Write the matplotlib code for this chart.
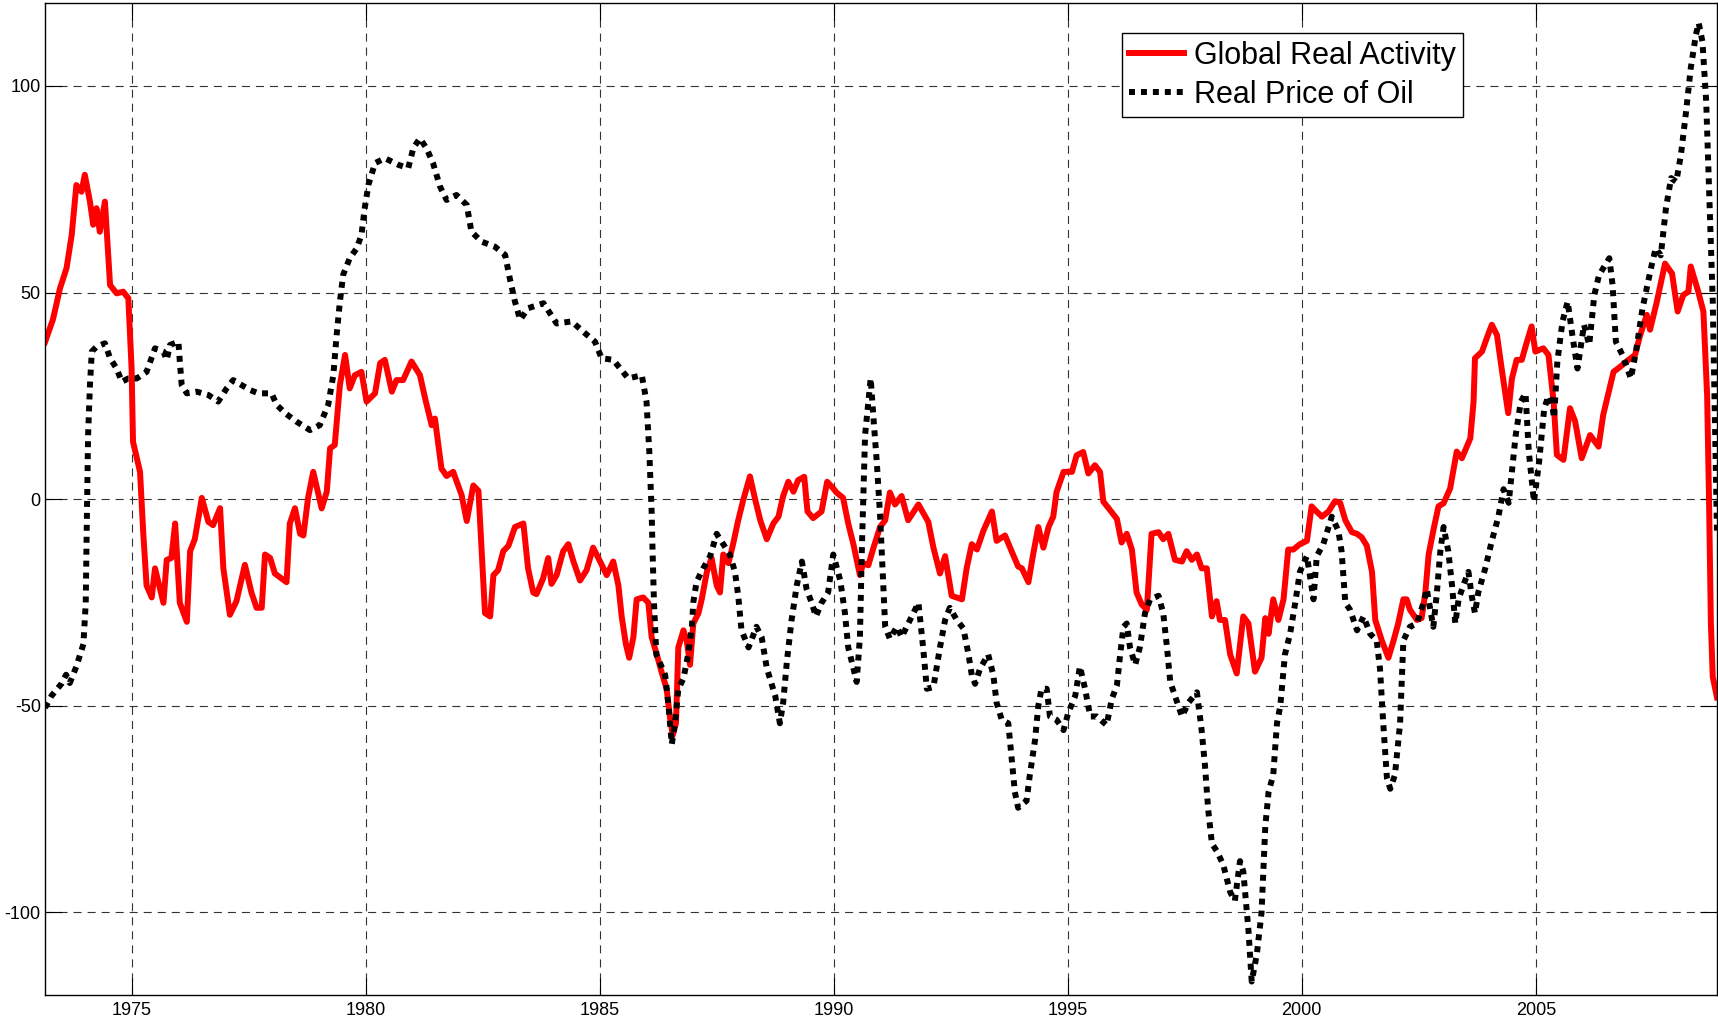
import matplotlib
matplotlib.use("Agg")
import matplotlib.pyplot as plt

plt.rcParams['font.family'] = ['Liberation Sans', 'DejaVu Sans']
plt.rcParams['lines.scale_dashes'] = False

# Global real activity index (decimal year, value)
activity_year = [
    1973.15, 1973.32, 1973.47, 1973.61, 1973.72, 1973.82, 1973.93, 1974.00, 1974.11, 1974.18,
    1974.25, 1974.32, 1974.43, 1974.54, 1974.68, 1974.82, 1974.93, 1975.00, 1975.03, 1975.18,
    1975.25, 1975.32, 1975.43, 1975.50, 1975.68, 1975.75, 1975.85, 1975.93, 1976.03, 1976.18,
    1976.25, 1976.35, 1976.50, 1976.64, 1976.74, 1976.89, 1976.96, 1977.10, 1977.24, 1977.42,
    1977.56, 1977.67, 1977.78, 1977.85, 1977.96, 1978.06, 1978.31, 1978.38, 1978.49, 1978.60,
    1978.67, 1978.77, 1978.88, 1979.06, 1979.17, 1979.24, 1979.34, 1979.45, 1979.56, 1979.66,
    1979.77, 1979.91, 1980.02, 1980.20, 1980.31, 1980.41, 1980.56, 1980.66, 1980.80, 1980.98,
    1981.16, 1981.27, 1981.41, 1981.48, 1981.62, 1981.73, 1981.87, 1982.05, 1982.16, 1982.30,
    1982.41, 1982.55, 1982.66, 1982.73, 1982.83, 1982.94, 1983.05, 1983.19, 1983.37, 1983.47,
    1983.58, 1983.65, 1983.79, 1983.90, 1983.97, 1984.08, 1984.22, 1984.33, 1984.44, 1984.58,
    1984.72, 1984.86, 1985.01, 1985.15, 1985.29, 1985.40, 1985.47, 1985.56, 1985.63, 1985.72,
    1985.79, 1985.93, 1986.04, 1986.11, 1986.22, 1986.32, 1986.43, 1986.50, 1986.56, 1986.63,
    1986.68, 1986.79, 1986.86, 1986.93, 1987.00, 1987.11, 1987.18, 1987.29, 1987.39, 1987.50,
    1987.57, 1987.64, 1987.75, 1987.85, 1987.96, 1988.07, 1988.21, 1988.32, 1988.43, 1988.57,
    1988.71, 1988.82, 1988.92, 1989.03, 1989.14, 1989.24, 1989.37, 1989.44, 1989.56, 1989.74,
    1989.86, 1989.99, 1990.06, 1990.20, 1990.31, 1990.42, 1990.56, 1990.63, 1990.74, 1990.85,
    1990.99, 1991.10, 1991.20, 1991.31, 1991.45, 1991.59, 1991.81, 1992.02, 1992.13, 1992.27,
    1992.38, 1992.52, 1992.74, 1992.84, 1992.95, 1993.06, 1993.20, 1993.38, 1993.48, 1993.66,
    1993.80, 1993.94, 1994.02, 1994.16, 1994.26, 1994.37, 1994.48, 1994.59, 1994.69, 1994.76,
    1994.91, 1995.09, 1995.19, 1995.33, 1995.44, 1995.58, 1995.69, 1995.76, 1995.90, 1996.05,
    1996.15, 1996.26, 1996.37, 1996.47, 1996.58, 1996.69, 1996.79, 1996.94, 1997.04, 1997.15,
    1997.29, 1997.44, 1997.54, 1997.65, 1997.76, 1997.86, 1997.97, 1998.08, 1998.18, 1998.25,
    1998.36, 1998.47, 1998.61, 1998.75, 1998.86, 1999.00, 1999.14, 1999.22, 1999.29, 1999.39,
    1999.50, 1999.61, 1999.71, 1999.82, 1999.96, 2000.11, 2000.21, 2000.28, 2000.43, 2000.57,
    2000.71, 2000.82, 2000.93, 2001.07, 2001.18, 2001.28, 2001.39, 2001.50, 2001.57, 2001.71,
    2001.85, 2001.96, 2002.06, 2002.17, 2002.24, 2002.31, 2002.46, 2002.56, 2002.64, 2002.71,
    2002.81, 2002.92, 2003.03, 2003.17, 2003.31, 2003.42, 2003.60, 2003.67, 2003.70, 2003.85,
    2003.95, 2004.06, 2004.17, 2004.27, 2004.41, 2004.49, 2004.59, 2004.70, 2004.81, 2004.91,
    2004.99, 2005.16, 2005.27, 2005.38, 2005.45, 2005.59, 2005.73, 2005.84, 2005.98, 2006.16,
    2006.34, 2006.44, 2006.66, 2006.80, 2006.98, 2007.12, 2007.23, 2007.37, 2007.44, 2007.58,
    2007.76, 2007.91, 2008.03, 2008.15, 2008.26, 2008.31, 2008.47, 2008.58, 2008.66, 2008.70,
    2008.74, 2008.78, 2008.87,
]
activity = [
    38, 43.5, 51, 55.9, 63.9, 76, 74.4, 78.5, 72, 66.4,
    70.4, 64.7, 72, 51.8, 49.8, 50.2, 48.6, 31.6, 13.9, 6.6,
    -8.4, -20.9, -23.8, -16.75, -25.1, -14.7, -14.25, -5.9, -25.1, -29.7,
    -12.6, -9.7, 0.3, -5.5, -6.3, -2.2, -16.75, -28, -24.7, -15.9,
    -22.6, -26.3, -26.3, -13.4, -14.25, -18, -20.1, -5.9, -2.2, -8.4,
    -8.8, 0.3, 6.6, -2.25, 1.8, 12.3, 13.1, 27.6, 34.9, 26.8,
    30, 30.8, 23.6, 25.6, 32.9, 33.7, 26, 28.8, 28.8, 33.3,
    30, 24.4, 17.9, 19.5, 7.4, 5.6, 6.6, 1, -5.3, 3.3,
    2, -27.6, -28.4, -18.4, -17.2, -12.6, -11.3, -6.75, -5.9, -16.75,
    -22.6, -23, -19.25, -14.25, -20.5, -18.4, -12.6, -10.9, -15.1, -19.7,
    -17.2, -11.75, -15.1, -18.4, -15.1, -20.9, -28.4, -35.1, -38.4, -33.4,
    -24.25, -23.8, -25.1, -33.4, -37.6, -41.75, -45.9, -52.6, -57.2, -54.25,
    -35.9, -31.75, -34.25, -40.1, -30.1, -27.6, -24.25, -17.6, -14.25, -20.9,
    -22.6, -13.4, -15.5, -10.9, -5.1, -0.1, 5.5, 0, -5.1, -9.7,
    -5.9, -4.25, 0.75, 4.2, 1.8, 4.6, 5.4, -3, -4.6, -3,
    4.2, 2.6, 1.6, 0.3, -5.9, -10.9, -18.4, -15.5, -16, -11.75,
    -6.75, -5.1, 1.6, -1.3, 0.75, -5.1, -1.3, -5.5, -11.75, -18,
    -13.8, -23.4, -24.25, -16.75, -10.9, -12.2, -7.6, -3, -10.1, -8.8,
    -12.6, -16.3, -16.75, -20.1, -13.4, -6.75, -11.75, -6.75, -4.25, 1.7,
    6.6, 6.6, 10.6, 11.4, 6.2, 8.2, 6.6, -0.6, -2.6, -4.8,
    -10.5, -8.4, -12.2, -22.6, -25.5, -26.75, -8.4, -8, -9.7, -8.4,
    -14.7, -15.1, -12.6, -14.7, -13.4, -16.75, -16.75, -28.4, -24.7, -29.25,
    -29.25, -37.6, -42.2, -28.4, -30.1, -41.75, -38.4, -28.8, -32.6, -24.25,
    -29.25, -24.25, -12.2, -12.2, -10.9, -10.1, -1.75, -2.6, -4.25, -3,
    -0.5, -0.9, -5.1, -8, -8.4, -9.25, -11.3, -17.6, -29.25, -34.25,
    -38.4, -34.25, -30.1, -24.25, -24.25, -26.75, -29.25, -28.8, -22.6, -13.4,
    -7.6, -1.75, -1, 2.6, 11.5, 9.9, 14.7, 23.6, 34.1, 35.7,
    38.9, 42.2, 39.7, 31.6, 20.8, 29.2, 33.7, 33.7, 38.1, 41.8,
    35.7, 36.5, 34.9, 23.6, 10.7, 9.5, 22, 18.8, 9.9, 15.5,
    12.7, 20.4, 30.8, 32, 33.7, 34.9, 39.7, 44.6, 41, 47.5,
    57, 54.6, 45.4, 49.4, 50.2, 56.3, 50.2, 45.4, 25, 0,
    -30, -43, -48,
]

# Real price of oil (decimal year, value)
oil_year = [
    1973.15, 1973.29, 1973.50, 1973.60, 1973.68, 1973.82, 1973.97, 1974.02, 1974.04, 1974.07,
    1974.11, 1974.15, 1974.25, 1974.43, 1974.54, 1974.68, 1974.79, 1974.93, 1975.11, 1975.32,
    1975.50, 1975.68, 1975.75, 1975.82, 1976.00, 1976.03, 1976.07, 1976.18, 1976.39, 1976.64,
    1976.85, 1977.03, 1977.17, 1977.35, 1977.53, 1977.71, 1977.99, 1978.10, 1978.28, 1978.53,
    1978.81, 1979.02, 1979.20, 1979.31, 1979.38, 1979.45, 1979.52, 1979.66, 1979.81, 1979.91,
    1979.98, 1980.06, 1980.20, 1980.41, 1980.70, 1980.91, 1981.02, 1981.16, 1981.30, 1981.44,
    1981.59, 1981.73, 1981.94, 1982.16, 1982.26, 1982.48, 1982.76, 1982.98, 1983.08, 1983.19,
    1983.30, 1983.47, 1983.80, 1984.08, 1984.40, 1984.65, 1984.90, 1985.04, 1985.29, 1985.61,
    1985.90, 1986.00, 1986.06, 1986.11, 1986.13, 1986.16, 1986.21, 1986.40, 1986.47, 1986.54,
    1986.61, 1986.68, 1986.79, 1986.89, 1986.97, 1987.00, 1987.07, 1987.21, 1987.36, 1987.50,
    1987.64, 1987.78, 1987.89, 1987.96, 1988.03, 1988.18, 1988.35, 1988.46, 1988.57, 1988.75,
    1988.85, 1988.92, 1989.00, 1989.10, 1989.21, 1989.32, 1989.42, 1989.53, 1989.62, 1989.74,
    1989.88, 1989.99, 1990.14, 1990.24, 1990.31, 1990.42, 1990.49, 1990.56, 1990.60, 1990.63,
    1990.67, 1990.74, 1990.79, 1990.85, 1990.92, 1990.99, 1991.06, 1991.10, 1991.20, 1991.35,
    1991.45, 1991.63, 1991.81, 1991.91, 1991.99, 1992.13, 1992.27, 1992.38, 1992.48, 1992.63,
    1992.77, 1992.88, 1992.95, 1993.02, 1993.13, 1993.30, 1993.41, 1993.48, 1993.59, 1993.73,
    1993.80, 1993.87, 1993.94, 1994.12, 1994.19, 1994.30, 1994.37, 1994.44, 1994.55, 1994.62,
    1994.76, 1994.91, 1995.01, 1995.16, 1995.26, 1995.37, 1995.48, 1995.62, 1995.83, 1995.94,
    1996.05, 1996.12, 1996.19, 1996.26, 1996.33, 1996.44, 1996.54, 1996.65, 1996.76, 1996.94,
    1997.04, 1997.12, 1997.19, 1997.29, 1997.44, 1997.58, 1997.76, 1997.86, 1997.93, 1998.00,
    1998.08, 1998.18, 1998.32, 1998.47, 1998.57, 1998.68, 1998.75, 1998.86, 1998.93, 1999.04,
    1999.14, 1999.22, 1999.29, 1999.39, 1999.47, 1999.54, 1999.64, 1999.75, 1999.86, 1999.96,
    2000.11, 2000.25, 2000.32, 2000.46, 2000.64, 2000.78, 2000.85, 2000.93, 2001.03, 2001.18,
    2001.32, 2001.46, 2001.60, 2001.67, 2001.74, 2001.82, 2001.89, 2001.99, 2002.10, 2002.14,
    2002.17, 2002.31, 2002.46, 2002.60, 2002.67, 2002.81, 2002.88, 2002.96, 2003.03, 2003.13,
    2003.21, 2003.28, 2003.35, 2003.45, 2003.56, 2003.63, 2003.70, 2003.77, 2003.92, 2004.06,
    2004.20, 2004.31, 2004.42, 2004.57, 2004.68, 2004.78, 2004.85, 2004.96, 2005.07, 2005.18,
    2005.27, 2005.35, 2005.39, 2005.46, 2005.57, 2005.68, 2005.78, 2005.89, 2006.03, 2006.14,
    2006.25, 2006.35, 2006.57, 2006.64, 2006.71, 2006.85, 2007.03, 2007.14, 2007.28, 2007.46,
    2007.56, 2007.67, 2007.78, 2007.89, 2008.00, 2008.10, 2008.21, 2008.31, 2008.42, 2008.48,
    2008.56, 2008.64, 2008.71, 2008.78, 2008.82, 2008.87,
]
oil = [
    -50.5, -47.6, -44.7, -42.5, -44.5, -40.5, -35.1, -25.1, -8, 15.5,
    27.6, 35.7, 36.9, 37.7, 34.1, 31.6, 28.4, 29.2, 29.2, 30.8,
    36.5, 35.7, 33.7, 37.3, 38.1, 33.3, 27.6, 25.6, 26, 25.2,
    23.6, 26.8, 28.8, 27.6, 26.4, 25.6, 25.6, 22.8, 20.8, 18.7,
    16.7, 17.9, 22.8, 30, 39.7, 47.8, 54.3, 58.3, 60.7, 63.9,
    70.4, 76.1, 81.3, 82.5, 80.9, 80.1, 85, 87.3, 84.9, 81.3,
    75.6, 72.4, 73.6, 71.2, 64.7, 62.3, 61.1, 59.1, 53.4, 47.8,
    43.4, 46.2, 47.4, 42.5, 43, 40.5, 38.1, 34.1, 33.7, 29.2,
    30, 23.6, 11.5, -3, -12.6, -25, -37.6, -42.6, -50, -59.3,
    -54.2, -46, -43.4, -37.6, -30.9, -25, -20, -16.8, -13.8, -8.4,
    -10.9, -13.4, -17.6, -23.4, -31.75, -35.9, -30.9, -33.4, -40.9, -47.6,
    -54.25, -49.25, -39.25, -29.25, -20.9, -15.1, -21.75, -25.1, -28.4, -25.1,
    -22.6, -13.4, -19.7, -27.6, -35.9, -40.9, -44.25, -33.4, -12.6, -0.6,
    15.5, 23.6, 29.2, 19.5, 9, -3.8, -20.9, -30.9, -33.8, -30.9,
    -33.4, -29.25, -25.1, -35.9, -45.9, -45.5, -35.9, -29.25, -26.3, -29.25,
    -31.3, -37.6, -42.6, -44.7, -40.9, -37.6, -42.6, -49.25, -53.4, -54.25,
    -62.6, -70.9, -74.7, -73, -66.75, -58.4, -50.1, -45.9, -45.9, -52.6,
    -53.4, -55.9, -51.75, -47.6, -40.5, -45.9, -52.6, -52.6, -54.7, -48.4,
    -45.1, -37.6, -30.9, -30.1, -35.9, -40.1, -35.9, -27.6, -24.25, -23.4,
    -27.6, -35.9, -44.25, -47.6, -52.6, -49.25, -46.75, -55.9, -64.25, -75.1,
    -83.4, -85.1, -88.4, -95.1, -97.2, -87.6, -90.1, -104.25, -116.75, -110.1,
    -100.1, -79.25, -70.9, -66.75, -54.25, -50.1, -37.6, -32.6, -25.1, -17.6,
    -13.8, -24.25, -13.8, -10.9, -4.25, -7.6, -12.6, -25.1, -26.75, -31.75,
    -28.4, -32.6, -34.25, -40.9, -54.25, -67.6, -70.1, -66.75, -54.25, -42.6,
    -34.25, -30.9, -30.1, -25.1, -21.75, -30.9, -23.4, -12.6, -6.75, -12.6,
    -20.9, -30.1, -24.25, -20.9, -17.6, -23.4, -27.6, -22.6, -16.75, -10.1,
    -4.25, 2.4, -0.9, 15.5, 23.6, 25.6, 11.5, -0.6, 9, 22,
    25, 22.8, 19.6, 33.3, 43, 47.8, 39.7, 31.6, 42.2, 37.3,
    49.4, 54.2, 58.3, 51.8, 38.1, 34.9, 29.2, 35.7, 46.2, 55.9,
    60.7, 59, 70.4, 77.7, 76.8, 83.3, 93.8, 104.3, 112.4, 115.2,
    110.7, 96.2, 72, 47.8, 23.6, -8,
]

x_ticks = [1975, 1980, 1985, 1990, 1995, 2000, 2005]
y_ticks = [-100, -50, 0, 50, 100]

fig = plt.figure(figsize=(17.18, 10.21), dpi=100)
ax = fig.add_axes([0.0262, 0.0255, 0.9732, 0.9713])

ax.plot(activity_year, activity, color='red', linewidth=4.3,
        solid_joinstyle='round', label='Global Real Activity')
ax.plot(oil_year, oil, color='black', linewidth=4.3,
        linestyle=(0, (4.3, 4.3)), dash_capstyle='butt',
        label='Real Price of Oil')

ax.set_xlim(1973.15, 2008.87)
ax.set_ylim(-120, 120)
ax.set_xticks(x_ticks)
ax.set_yticks(y_ticks)
ax.set_xticklabels([str(v) for v in x_ticks])
ax.set_yticklabels([str(v) for v in y_ticks])

ax.grid(True, linestyle=(0, (5.8, 4.3)), linewidth=0.8, color='0.2')
ax.tick_params(direction='in', length=12, width=0.8, top=True, right=True,
               labelsize=13)
ax.tick_params(axis='x', pad=5)
ax.tick_params(axis='y', pad=3)
for s in ax.spines.values():
    s.set_linewidth(1.0)

leg = ax.legend(loc='upper left', bbox_to_anchor=(0.644, 0.970),
                borderaxespad=0, fontsize=22, handlelength=1.8,
                handletextpad=0.3, borderpad=0.25, labelspacing=0.3,
                fancybox=False, framealpha=1, edgecolor='black')
leg.get_frame().set_linewidth(1.0)

fig.savefig('out.png', dpi=100)
